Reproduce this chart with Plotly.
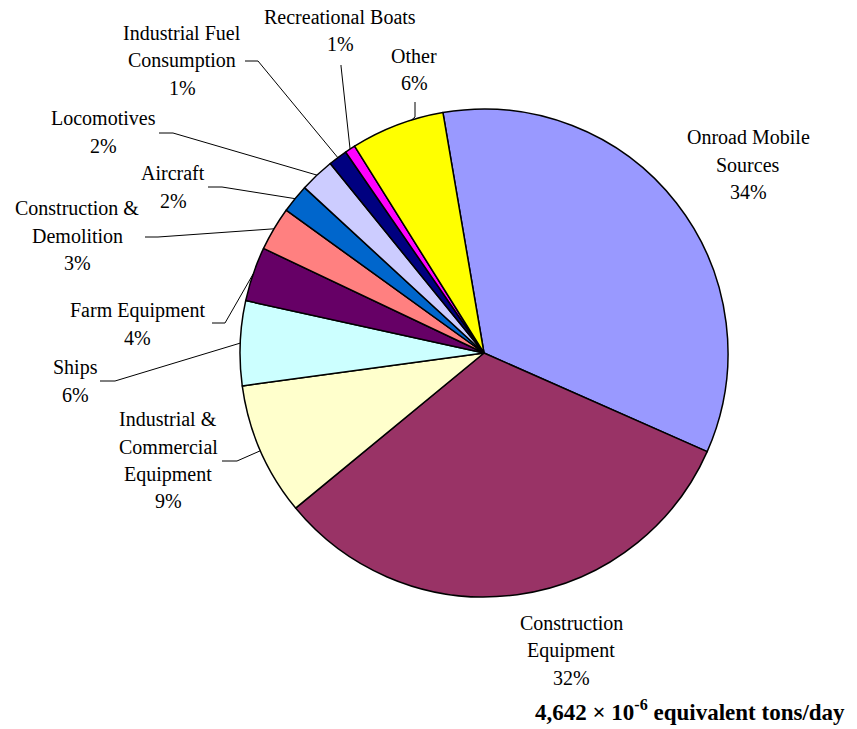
import math
import plotly.graph_objects as go

# ---- data ----
labels = ["Onroad Mobile Sources", "Construction Equipment", "Industrial & Commercial Equipment",
          "Ships", "Farm Equipment", "Construction & Demolition", "Aircraft", "Locomotives",
          "Industrial Fuel Consumption", "Recreational Boats", "Other"]
values = [34.3, 32.4, 8.8, 5.6, 3.6, 2.9, 1.9, 2.3, 1.25, 0.7, 6.2]
colors = ["#9999FF", "#993366", "#FFFFCC", "#CCFFFF", "#660066", "#FF8080",
          "#0066CC", "#CCCCFF", "#000080", "#FF00FF", "#FFFF00"]
label_lines = [["Onroad Mobile", "Sources"], ["Construction", "Equipment"],
               ["Industrial &", "Commercial", "Equipment"], ["Ships"], ["Farm Equipment"],
               ["Construction &", "Demolition"], ["Aircraft"], ["Locomotives"],
               ["Industrial Fuel", "Consumption"], ["Recreational Boats"], ["Other"]]
total_text = "4,642 × 10<sup>-6</sup> equivalent tons/day"

# ---- layout (pixels) ----
W, H = 857, 729
CX, CY, R = 484, 353, 244
ROT = -9.7
FONT = "Liberation Serif"
FS = 20
LS = 27.5
# label text center x, first line center y
label_pos = [(748, 137), (571, 623), (168, 419), (75, 367), (137, 310), (77, 208),
             (173, 173), (103, 118), (182, 33), (340, 17), (414, 56)]
# leader line: start point, elbow point, anchor fraction within slice (None = no leader)
leaders = [None, None,
           ((222, 461), (237, 461), 0.5),
           ((100, 381), (115, 381), 0.5),
           ((212, 323), (225, 323), 0.5),
           ((145, 237), (158, 237), 0.5),
           ((208, 187), (222, 187), 0.5),
           ((159, 133), (173, 133), 0.5),
           ((245, 61), (258, 61), 0.5),
           ((341, 65), (341, 66), 0.5),
           ((415, 102), (415, 117), 0.66)]


def px(x):
    return x / W


def py(y):
    return 1 - y / H


fig = go.Figure(go.Pie(
    labels=labels, values=values, sort=False, direction="clockwise", rotation=ROT,
    marker=dict(colors=colors, line=dict(color="black", width=1.5)),
    textinfo="none", hoverinfo="label+percent", showlegend=False,
    domain=dict(x=[px(CX - R), px(CX + R)], y=[py(CY + R), py(CY - R)]),
))

tot = sum(values)
annotations = []
shapes = []
cum = 0.0
for i, v in enumerate(values):
    a0 = ROT + cum / tot * 360
    span = v / tot * 360
    cum += v
    pct = round(v / tot * 100)
    lines = label_lines[i] + [f"{pct}%"]
    lx, ly = label_pos[i]
    for k, t in enumerate(lines):
        annotations.append(dict(x=px(lx), y=py(ly + k * LS), xref="paper", yref="paper",
                                text=t, showarrow=False, xanchor="center", yanchor="middle",
                                font=dict(family=FONT, size=FS, color="black")))
    if leaders[i] is not None:
        (sx, sy), (ex, ey), frac = leaders[i]
        a = math.radians(a0 + span * frac)
        qx, qy = CX + R * math.sin(a), CY - R * math.cos(a)
        path = f"M {px(sx)},{py(sy)} L {px(ex)},{py(ey)} L {px(qx)},{py(qy)}"
        shapes.append(dict(type="path", path=path, xref="paper", yref="paper",
                           line=dict(color="black", width=1)))

annotations.append(dict(x=px(690), y=py(710), xref="paper", yref="paper", text=f"<b>{total_text}</b>",
                        showarrow=False, xanchor="center", yanchor="middle",
                        font=dict(family=FONT, size=23, color="black")))

fig.update_layout(width=W, height=H, margin=dict(l=0, r=0, t=0, b=0),
                  paper_bgcolor="white", plot_bgcolor="white",
                  annotations=annotations, shapes=shapes)
fig.write_html("out.html")
